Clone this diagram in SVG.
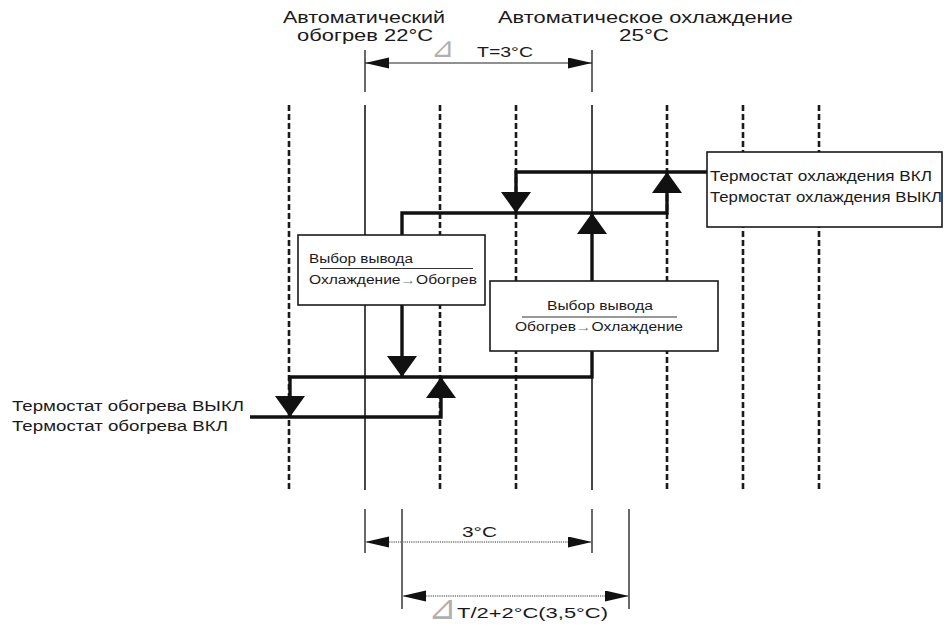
<svg xmlns="http://www.w3.org/2000/svg" width="944" height="628" viewBox="0 0 944 628">
<style>
text{font-family:"Liberation Sans",Arial,sans-serif;fill:#1a1a1a}
.lbl{font-size:16.5px}
.t14{font-size:14px}
.t12{font-size:12px}
.tri{font-family:"DejaVu Sans",sans-serif;fill:#b0b0b0}
.arr{fill:#777;font-size:12px}
.dash{stroke:#1a1a1a;stroke-width:2.6;stroke-dasharray:6 3;fill:none}
.guide{stroke:#333;stroke-width:1.8;fill:none}
.tick{stroke:#444;stroke-width:1.6;fill:none}
.box{fill:#fff;stroke:#1a1a1a;stroke-width:1.6}
.sep{stroke:#333;stroke-width:1.2}
.thick{stroke:#111;stroke-width:3.4;fill:none;stroke-linejoin:miter}
.dim{stroke:#222;stroke-width:1.2;fill:none}
.dot{stroke:#777;stroke-width:1.4;stroke-dasharray:1.2 1;fill:none}
</style>
<defs>
<marker id="big" markerUnits="userSpaceOnUse" markerWidth="22" markerHeight="30" refX="21" refY="15" orient="auto" viewBox="0 0 22 30">
<path d="M0,0 L21,15 L0,30 z" fill="#111"/>
</marker>
<marker id="sm" markerUnits="userSpaceOnUse" markerWidth="25" markerHeight="12" refX="24" refY="5.5" orient="auto-start-reverse" viewBox="0 0 25 12">
<path d="M0,0 L24,5.5 L0,11 z" fill="#111"/>
</marker>
</defs>
<rect width="944" height="628" fill="#fff"/>

<g id="guides">
<line class="dash" x1="289" y1="105" x2="289" y2="490"/>
<line class="guide" x1="365" y1="105" x2="365" y2="490"/>
<line class="dash" x1="440" y1="105" x2="440" y2="490"/>
<line class="dash" x1="516" y1="105" x2="516" y2="490"/>
<line class="guide" x1="592" y1="105" x2="592" y2="490"/>
<line class="dash" x1="667" y1="105" x2="667" y2="490"/>
<line class="dash" x1="743" y1="105" x2="743" y2="490"/>
<line class="dash" x1="819" y1="105" x2="819" y2="490"/>
</g>

<g id="labels-top">
<text class="lbl" x="283" y="23" textLength="162" lengthAdjust="spacingAndGlyphs">Автоматический</text>
<text class="lbl" x="297" y="41" textLength="136" lengthAdjust="spacingAndGlyphs">обогрев 22°C</text>
<text class="lbl" x="498" y="23" textLength="295" lengthAdjust="spacingAndGlyphs">Автоматическое охлаждение</text>
<text class="lbl" x="619" y="41" textLength="50" lengthAdjust="spacingAndGlyphs">25°C</text>
</g>

<g id="dim-top">
<line class="tick" x1="365" y1="50" x2="365" y2="92"/>
<line class="tick" x1="592" y1="50" x2="592" y2="92"/>
<line class="dim" x1="365" y1="63" x2="592" y2="63" marker-start="url(#sm)" marker-end="url(#sm)"/>
<text class="tri" x="431" y="57" font-size="28">⊿</text>
<text class="t14" x="477" y="57" textLength="56" lengthAdjust="spacingAndGlyphs" style="font-size:15px">Т=3°C</text>
</g>

<g id="connectors">
<path class="thick" d="M707,172 L516,172 L516,213" marker-end="url(#big)"/>
<path class="thick" d="M402,235 L402,213 L667,213 L667,172" marker-end="url(#big)"/>
<path class="thick" d="M592,281 L592,213" marker-end="url(#big)"/>
<path class="thick" d="M402,305 L402,377" marker-end="url(#big)"/>
<path class="thick" d="M592,351 L592,377 L290,377 L290,417" marker-end="url(#big)"/>
<path class="thick" d="M250,417 L441,417 L441,377" marker-end="url(#big)"/>
</g>

<g id="node-cool-thermostat">
<rect class="box" x="707" y="152" width="235" height="75"/>
<text class="t14" x="710" y="181" textLength="222" lengthAdjust="spacingAndGlyphs">Термостат охлаждения ВКЛ</text>
<text class="t14" x="710" y="202" textLength="232" lengthAdjust="spacingAndGlyphs">Термостат охлаждения ВЫКЛ</text>
</g>

<g id="node-select-cool-heat">
<rect class="box" x="298" y="235" width="187" height="70"/>
<text class="t12" x="309" y="263" textLength="104" lengthAdjust="spacingAndGlyphs">Выбор вывода</text>
<line class="sep" x1="320" y1="268.5" x2="473" y2="268.5"/>
<text class="t12" x="309" y="284" textLength="168" lengthAdjust="spacingAndGlyphs">Охлаждение<tspan class="arr">→</tspan>Обогрев</text>
</g>

<g id="node-select-heat-cool">
<rect class="box" x="490" y="281" width="228" height="70"/>
<text class="t12" x="547" y="310" textLength="106" lengthAdjust="spacingAndGlyphs">Выбор вывода</text>
<line class="sep" x1="522" y1="317" x2="677" y2="317"/>
<text class="t12" x="515" y="331" textLength="168" lengthAdjust="spacingAndGlyphs">Обогрев<tspan class="arr">→</tspan>Охлаждение</text>
</g>

<g id="node-heat-thermostat">
<text class="t14" x="12" y="411" textLength="232" lengthAdjust="spacingAndGlyphs">Термостат обогрева ВЫКЛ</text>
<text class="t14" x="12" y="431" textLength="216" lengthAdjust="spacingAndGlyphs">Термостат обогрева ВКЛ</text>
</g>

<g id="dim-bottom">
<line class="tick" x1="365" y1="509" x2="365" y2="553"/>
<line class="tick" x1="592" y1="509" x2="592" y2="553"/>
<line class="tick" x1="402" y1="509" x2="402" y2="609"/>
<line class="tick" x1="629" y1="509" x2="629" y2="609"/>
<line class="dot" x1="365" y1="542" x2="592" y2="542" marker-start="url(#sm)" marker-end="url(#sm)"/>
<text class="lbl" x="462" y="537" textLength="35" lengthAdjust="spacingAndGlyphs" style="font-size:15px">3°C</text>
<line class="dot" x1="402" y1="596" x2="629" y2="596" marker-start="url(#sm)" marker-end="url(#sm)"/>
<text class="tri" x="428" y="619" font-size="34">⊿</text>
<text class="lbl" x="457" y="618" textLength="151" lengthAdjust="spacingAndGlyphs" style="font-size:15.5px">T/2+2°C(3,5°C)</text>
</g>
</svg>
